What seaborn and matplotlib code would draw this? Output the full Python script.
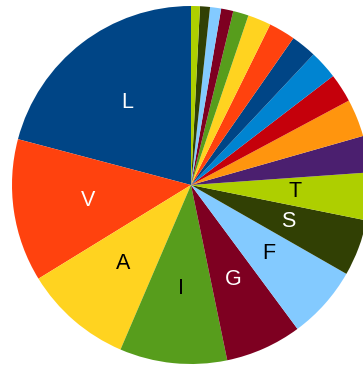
import matplotlib
matplotlib.use("Agg")
import matplotlib.pyplot as plt
import seaborn as sns

sns.set_theme(style="white")
plt.rcParams['font.family'] = ['Liberation Sans', 'DejaVu Sans']

# Slice values (percent), counterclockwise from the top
labels = ["L", "V", "A", "I", "G", "F", "S", "T",
          "", "", "", "", "", "", "", "", "", "", "", ""]
values = [20.9, 12.9, 9.8, 9.7, 6.9, 6.6, 5.1, 4.3,
          3.3, 3.4, 2.6, 2.6, 2.3, 2.4, 2.1, 1.4, 1.1, 1.0, 0.9, 0.8]
palette = ["#004586", "#ff420e", "#ffd320", "#579d1c", "#7e0021", "#83caff",
           "#314004", "#aecf00", "#4b1f6f", "#ff950e", "#c5000b", "#0084d1"]
label_colors = ["white", "white", "black", "black", "white", "black", "white", "black"]

colors = [palette[i % len(palette)] for i in range(len(values))]

W, H = 363, 366
fig = plt.figure(figsize=(W / 100, H / 100), dpi=100)
cx, cy, r = 191, 185, 179
ax = fig.add_axes([(cx - r) / W, (H - cy - r) / H, 2 * r / W, 2 * r / H])

wedges, texts = ax.pie(values, labels=labels, colors=colors, startangle=90,
                       counterclock=True, labeldistance=0.58,
                       wedgeprops=dict(linewidth=0),
                       textprops=dict(fontsize=15.5))
for t, c in zip(texts, label_colors + ["black"] * (len(texts) - len(label_colors))):
    t.set_color(c)
    t.set_ha("center")
    t.set_va("center")
ax.set_xlim(-1, 1)
ax.set_ylim(-1, 1)
ax.set_aspect("auto")
ax.axis("off")

fig.savefig("out.png", dpi=100)
